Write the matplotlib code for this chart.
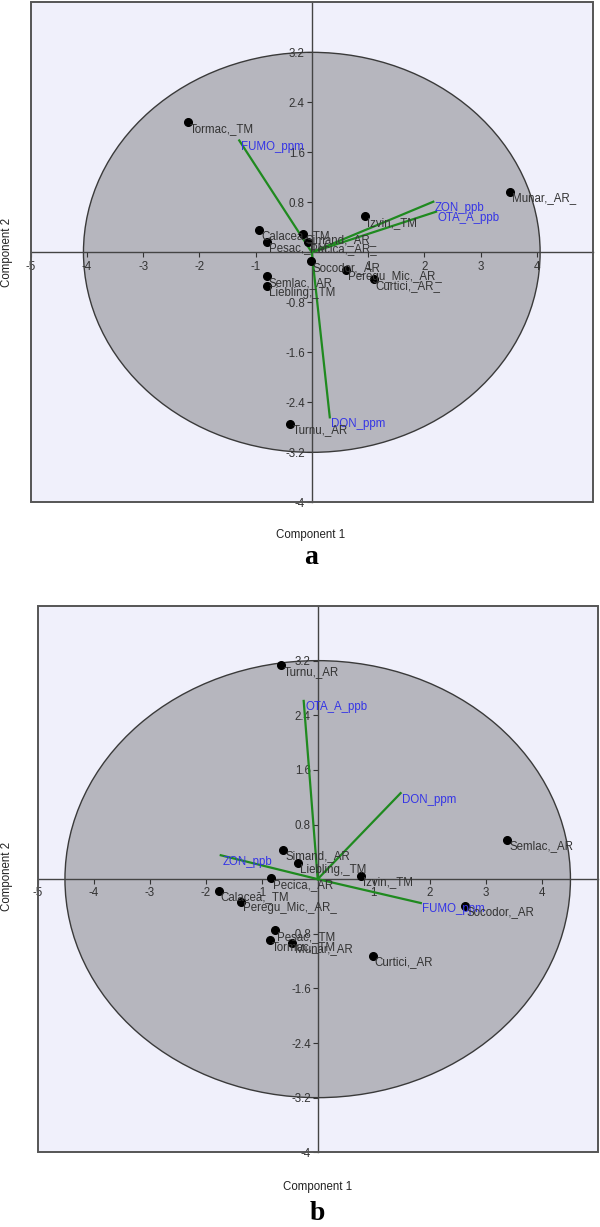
import matplotlib
matplotlib.use('Agg')
import matplotlib.pyplot as plt
from matplotlib.patches import Ellipse, Rectangle

plt.rcParams['font.family'] = ['Liberation Sans', 'DejaVu Sans']
plt.rcParams['axes.unicode_minus'] = False

# panel a - scores
a_sites = ['Tormac,_TM', 'Munar,_AR_', 'Izvin,_TM', 'Calacea,_TM', 'Simand,_AR_',
           'Pesac,_TM', 'Pecica,_AR_', 'Socodor,_AR', 'Peregu_Mic,_AR_', 'Curtici,_AR_',
           'Semlac,_AR', 'Liebling,_TM', 'Turnu,_AR']
a_x = [-2.20, 3.52, 0.94, -0.93, -0.15, -0.79, -0.06, -0.02, 0.60, 1.10, -0.80, -0.80, -0.38]
a_y = [2.08, 0.97, 0.58, 0.36, 0.30, 0.17, 0.16, -0.14, -0.28, -0.43, -0.38, -0.54, -2.74]
# panel a - loadings
a_vars = ['FUMO_ppm', 'ZON_ppb', 'OTA_A_ppb', 'DON_ppm']
a_vx = [-1.29, 2.16, 2.21, 0.32]
a_vy = [1.79, 0.81, 0.65, -2.64]
a_ell = (4.06, 3.2)

# panel b - scores
b_sites = ['Turnu,_AR', 'Semlac,_AR', 'Simand,_AR', 'Liebling,_TM', 'Izvin,_TM',
           'Pecica,_AR', 'Calacea,_TM', 'Peregu_Mic,_AR_', 'Socodor,_AR', 'Pesac,_TM',
           'Tormac,_TM', 'Munar,_AR', 'Curtici,_AR']
b_x = [-0.65, 3.38, -0.62, -0.36, 0.78, -0.83, -1.77, -1.37, 2.62, -0.77, -0.86, -0.45, 0.98]
b_y = [3.13, 0.58, 0.43, 0.23, 0.05, 0.01, -0.17, -0.33, -0.39, -0.75, -0.89, -0.93, -1.12]
# panel b - loadings
b_vars = ['OTA_A_ppb', 'DON_ppm', 'ZON_ppb', 'FUMO_ppm']
b_vx = [-0.25, 1.48, -1.73, 1.84]
b_vy = [2.61, 1.26, 0.35, -0.35]
b_ell = (4.51, 3.2)

x_ticks = [-5, -4, -3, -2, -1, 0, 1, 2, 3, 4]
x_tick_labels = ['-5', '-4', '-3', '-2', '-1', '', '1', '2', '3', '4']
y_ticks = [-4, -3.2, -2.4, -1.6, -0.8, 0, 0.8, 1.6, 2.4, 3.2]
y_tick_labels = ['-4', '-3.2', '-2.4', '-1.6', '-0.8', '', '0.8', '1.6', '2.4', '3.2']

FS = 8.3


def biplot(ax, sites, sx, sy, variables, vx, vy, ell):
    ax.set_facecolor('#f0f0fb')
    ax.add_patch(Ellipse((0, 0), 2 * ell[0], 2 * ell[1], facecolor='#b6b6be',
                         edgecolor='#3a3a3a', lw=1, zorder=1))
    for v, x, y in zip(variables, vx, vy):
        ax.plot([0, x], [0, y], color='#1f8a1f', lw=1.6, zorder=3)
        ax.annotate(v, (x, y), xytext=(1.2, -0.3), textcoords='offset points',
                    ha='left', va='top', color='#3434e6', fontsize=FS, zorder=5)
    ax.plot(sx, sy, 'o', color='black', ms=5.5, zorder=4)
    for name, x, y in zip(sites, sx, sy):
        ax.annotate(name, (x, y), xytext=(1.5, -0.5), textcoords='offset points',
                    ha='left', va='top', color='#333333', fontsize=FS, zorder=5)
    ax.set_xlim(-5, 5)
    ax.set_ylim(-4, 4)
    ax.spines['left'].set_position(('data', 0))
    ax.spines['bottom'].set_position(('data', 0))
    ax.spines['top'].set_visible(False)
    ax.spines['right'].set_visible(False)
    for s in ['left', 'bottom']:
        ax.spines[s].set_color('#444444')
        ax.spines[s].set_linewidth(1.0)
    ax.add_patch(Rectangle((0, 0), 1, 1, transform=ax.transAxes, fill=False,
                           edgecolor='#555555', lw=1.4, clip_on=False, zorder=6))
    ax.set_xticks(x_ticks, x_tick_labels)
    ax.set_yticks(y_ticks, y_tick_labels)
    ax.tick_params(direction='out', length=3.5, width=0.8, labelsize=FS,
                   colors='#333333')
    ax.tick_params(axis='x', pad=2.5)
    ax.tick_params(axis='y', pad=1.5)


fig = plt.figure(figsize=(6, 12.27), dpi=100)

ax1 = fig.add_axes([0.051, 0.5906, 0.9373, 0.4075])
biplot(ax1, a_sites, a_x, a_y, a_vars, a_vx, a_vy, a_ell)
ax2 = fig.add_axes([0.0625, 0.0609, 0.934, 0.4452])
biplot(ax2, b_sites, b_x, b_y, b_vars, b_vx, b_vy, b_ell)

fig.text(0.518, 0.564, 'Component 1', ha='center', va='center', fontsize=FS, color='#222222')
fig.text(0.0125, 0.7946, 'Component 2', ha='center', va='center', rotation=90, fontsize=FS, color='#222222')
fig.text(0.518, 0.546, 'a', ha='center', va='center', fontsize=20, fontweight='bold',
         family='Liberation Serif')

fig.text(0.529, 0.0326, 'Component 1', ha='center', va='center', fontsize=FS, color='#222222')
fig.text(0.0125, 0.2853, 'Component 2', ha='center', va='center', rotation=90, fontsize=FS, color='#222222')
fig.text(0.529, 0.0106, 'b', ha='center', va='center', fontsize=20, fontweight='bold',
         family='Liberation Serif')

fig.savefig('out.png', dpi=100)
